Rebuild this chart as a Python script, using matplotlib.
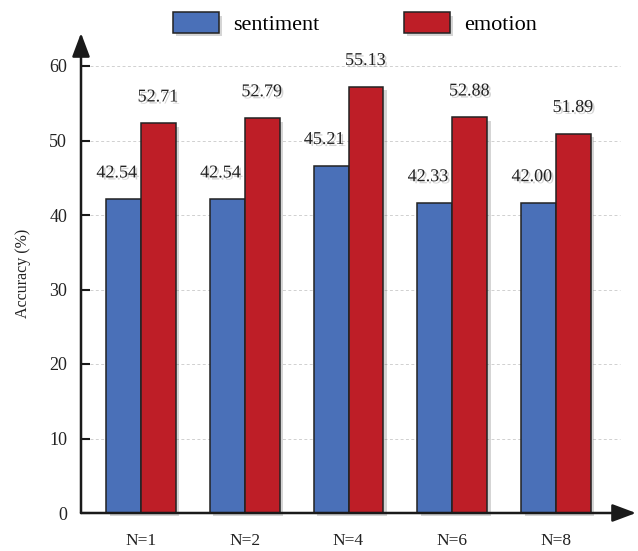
import numpy as np
import matplotlib
matplotlib.use('Agg')
import matplotlib.pyplot as plt
import matplotlib.patheffects as pe

# values
categories = ['N=1', 'N=2', 'N=4', 'N=6', 'N=8']
sentiment = [42.54, 42.54, 45.21, 42.33, 42.00]   # printed labels
emotion = [52.71, 52.79, 55.13, 52.88, 51.89]
sentiment_bar = [42.1, 42.1, 46.6, 41.6, 41.6]     # heights as drawn
emotion_bar = [52.3, 53.0, 57.2, 53.1, 50.9]
yticks = [0, 10, 20, 30, 40, 50, 60]

plt.rcParams['font.family'] = ['Liberation Serif', 'DejaVu Serif']

BLUE = '#4A70B8'
RED = '#BE1E27'
DARK = '#222222'

fig = plt.figure(figsize=(6.38, 5.51), dpi=100)
W, H = 638, 551
ax = fig.add_axes([81 / W, (H - 513) / H, (636 - 81) / W, (513 - 33) / H])

x = np.arange(len(categories))
w = 0.337
bar_fx = [pe.SimplePatchShadow(offset=(2.5, -2.5), shadow_rgbFace='#777777', alpha=0.3),
          pe.Normal()]
txt_fx = [pe.withSimplePatchShadow(offset=(1.5, -1.5), shadow_rgbFace='#555555', alpha=0.25)]

b1 = ax.bar(x - w / 2, sentiment_bar, w, color=BLUE, edgecolor=DARK, lw=1.1,
            label='sentiment', zorder=3, clip_on=False)
b2 = ax.bar(x + w / 2, emotion_bar, w, color=RED, edgecolor=DARK, lw=1.1,
            label='emotion', zorder=3, clip_on=False)
for b in list(b1) + list(b2):
    b.set_path_effects(bar_fx)

for xi, h, v in zip(x, sentiment_bar, sentiment):
    ax.annotate('{:.2f}'.format(v), (xi - w / 2, h), xytext=(-5, 19),
                textcoords='offset points', ha='center', va='center',
                fontsize=13, color=DARK, path_effects=txt_fx, zorder=5)
for xi, h, v in zip(x, emotion_bar, emotion):
    ax.annotate('{:.2f}'.format(v), (xi + w / 2, h), xytext=(-0.5, 19),
                textcoords='offset points', ha='center', va='center',
                fontsize=13, color=DARK, path_effects=txt_fx, zorder=5)

ax.set_xlim((81 - 141) / 103.75, (636 - 141) / 103.75)
ax.set_ylim(0, (513 - 33) / 7.45)

# dashed grid
ax.hlines(yticks[1:], -0.49, 4.62, colors='#d0d0d0', linestyles=(0, (3, 2.5)),
          lw=0.7, zorder=1)

for s in ax.spines.values():
    s.set_visible(False)

arrow = dict(arrowstyle='-|>,head_length=0.72,head_width=0.27', lw=1.8,
             color='#1a1a1a', shrinkA=0, shrinkB=0, mutation_scale=20)
ax.annotate('', xy=(0, 1), xytext=(0, 0), xycoords='axes fraction',
            arrowprops=arrow, zorder=6, annotation_clip=False)
ax.annotate('', xy=(1, 0), xytext=(0, 0), xycoords='axes fraction',
            arrowprops=arrow, zorder=6, annotation_clip=False)

ax.set_yticks(yticks)
ax.tick_params(axis='y', direction='in', length=6.5, width=1.5, color='#1a1a1a',
               pad=10, labelsize=13, labelcolor=DARK)
ax.set_xticks(x)
ax.set_xticklabels(categories)
ax.tick_params(axis='x', length=0, pad=14.5, labelsize=12.5, labelcolor=DARK)

ax.set_ylabel('Accuracy (%)', fontsize=11.5, color=DARK, labelpad=13)

leg = fig.legend(handles=[b1, b2], loc='center', ncol=2, frameon=False,
                 bbox_to_anchor=(355 / W, 1 - 23.5 / H), fontsize=16,
                 handlelength=2.07, handleheight=1.04, handletextpad=0.65,
                 columnspacing=3.8)

fig.savefig('out.png', dpi=100)
